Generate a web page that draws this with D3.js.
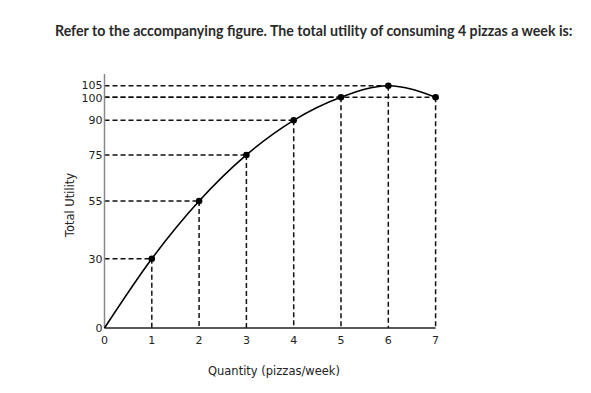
<!DOCTYPE html>
<html>
<head>
<meta charset="utf-8">
<script src="https://d3js.org/d3.v7.min.js"></script>
<style>
    body { margin: 0; background: #fff; }
</style>
</head>
<body>
<div id="chart"></div>
<script>
    // data
    const quantities = [0, 1, 2, 3, 4, 5, 6, 7];
    const totalUtility = [0, 30, 55, 75, 90, 100, 105, 100];
    const xTicks = [0, 1, 2, 3, 4, 5, 6, 7];
    const yTicks = [0, 30, 55, 75, 90, 100, 105];

    const width = 591, height = 393;
    const labelFont = "'DejaVu Sans', Verdana, sans-serif";

    const svg = d3.select("#chart").append("svg")
        .attr("width", width)
        .attr("height", height);

    svg.append("text")
        .attr("x", 55)
        .attr("y", 36)
        .style("font-family", "Lato, sans-serif")
        .style("font-weight", "700")
        .style("font-size", "14.2px")
        .style("fill", "#2a2a2a")
        .text("Refer to the accompanying figure. The total utility of consuming 4 pizzas a week is:");

    const x = d3.scaleLinear().domain([0, 7]).range([104.5, 435.6]);
    const y = d3.scaleLinear().domain([0, 105]).range([328, 85.7]);

    const points = quantities.map((q, i) => ({ q: q, u: totalUtility[i] }));

    // dashed guide lines (skip the origin)
    const guides = svg.append("g")
        .attr("stroke", "#111")
        .attr("stroke-width", 1.5)
        .attr("stroke-dasharray", "5,3");
    points.slice(1).forEach(d => {
        guides.append("line")
            .attr("x1", x(0)).attr("x2", x(d.q))
            .attr("y1", y(d.u)).attr("y2", y(d.u));
        guides.append("line")
            .attr("x1", x(d.q)).attr("x2", x(d.q))
            .attr("y1", y(d.u)).attr("y2", y(0));
    });

    // axes
    svg.append("line")
        .attr("x1", x(0)).attr("x2", x(0))
        .attr("y1", y(0)).attr("y2", 74)
        .attr("stroke", "#888").attr("stroke-width", 1.5);
    svg.append("line")
        .attr("x1", x(0)).attr("x2", x(7))
        .attr("y1", y(0)).attr("y2", y(0))
        .attr("stroke", "#222").attr("stroke-width", 1.3);

    // curve
    const line = d3.line()
        .x(d => x(d.q))
        .y(d => y(d.u))
        .curve(d3.curveMonotoneX);

    svg.append("path")
        .datum(points)
        .attr("d", line)
        .attr("fill", "none")
        .attr("stroke", "#000")
        .attr("stroke-width", 1.6);

    svg.append("g").selectAll("circle")
        .data(points.slice(1))
        .enter().append("circle")
        .attr("cx", d => x(d.q))
        .attr("cy", d => y(d.u))
        .attr("r", 3.3)
        .attr("fill", "#000");

    // tick labels
    svg.append("g").selectAll("text")
        .data(yTicks)
        .enter().append("text")
        .attr("x", x(0) - 2)
        .attr("y", d => y(d) + (d === 105 ? 3 : d === 100 ? 4.5 : 4))
        .attr("text-anchor", "end")
        .style("font-family", labelFont)
        .style("font-size", "11px")
        .style("fill", "#222")
        .text(d => d);

    svg.append("g").selectAll("text")
        .data(xTicks)
        .enter().append("text")
        .attr("x", d => x(d))
        .attr("y", y(0) + 16)
        .attr("text-anchor", "middle")
        .style("font-family", labelFont)
        .style("font-size", "11px")
        .style("fill", "#222")
        .text(d => d);

    svg.append("text")
        .attr("x", 274)
        .attr("y", 375)
        .attr("text-anchor", "middle")
        .style("font-family", labelFont)
        .style("font-size", "11.5px")
        .style("fill", "#222")
        .text("Quantity (pizzas/week)");

    svg.append("text")
        .attr("transform", "translate(74,205) rotate(-90)")
        .attr("text-anchor", "middle")
        .style("font-family", labelFont)
        .style("font-size", "11.5px")
        .style("fill", "#222")
        .text("Total Utility");
</script>
</body>
</html>
